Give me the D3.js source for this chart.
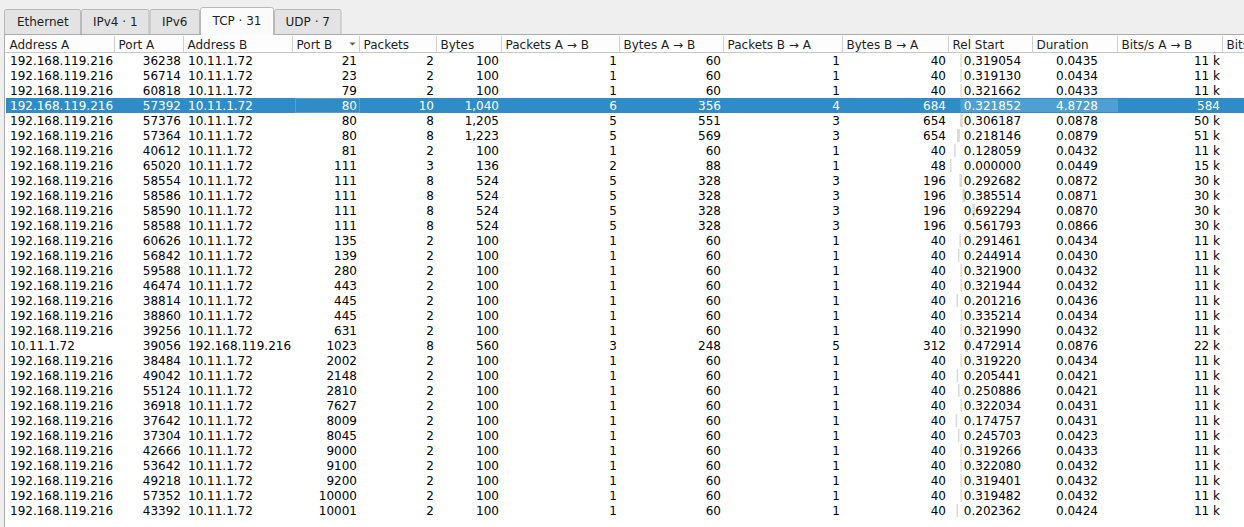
<!DOCTYPE html>
<html>
<head>
<meta charset="utf-8">
<script src="https://cdn.jsdelivr.net/npm/d3@7"></script>
<style>
  html, body { margin: 0; padding: 0; background: #efefef; overflow: hidden; }
  svg { display: block; font-family: "DejaVu Sans", sans-serif; font-size: 12px; }
</style>
</head>
<body>
<svg id="convTable" width="1244" height="527"></svg>
<script>
// tabs
const tabLabels = ["Ethernet", "IPv4 · 1", "IPv6", "TCP · 31", "UDP · 7"];
const selectedTab = 3;

// column headers
const headers = ["Address A", "Port A", "Address B", "Port B", "Packets", "Bytes",
  "Packets A → B", "Bytes A → B", "Packets B → A", "Bytes B → A",
  "Rel Start", "Duration", "Bits/s A → B", "Bits/s B → A"];

// conversation data (one array per column)
const addressA = ["192.168.119.216","192.168.119.216","192.168.119.216","192.168.119.216","192.168.119.216",
  "192.168.119.216","192.168.119.216","192.168.119.216","192.168.119.216","192.168.119.216",
  "192.168.119.216","192.168.119.216","192.168.119.216","192.168.119.216","192.168.119.216",
  "192.168.119.216","192.168.119.216","192.168.119.216","192.168.119.216","10.11.1.72",
  "192.168.119.216","192.168.119.216","192.168.119.216","192.168.119.216","192.168.119.216",
  "192.168.119.216","192.168.119.216","192.168.119.216","192.168.119.216","192.168.119.216",
  "192.168.119.216"];
const portA = [36238, 56714, 60818, 57392, 57376, 57364, 40612, 65020, 58554, 58586, 58590, 58588,
  60626, 56842, 59588, 46474, 38814, 38860, 39256, 39056, 38484, 49042, 55124, 36918, 37642,
  37304, 42666, 53642, 49218, 57352, 43392];
const addressB = ["10.11.1.72","10.11.1.72","10.11.1.72","10.11.1.72","10.11.1.72","10.11.1.72",
  "10.11.1.72","10.11.1.72","10.11.1.72","10.11.1.72","10.11.1.72","10.11.1.72","10.11.1.72",
  "10.11.1.72","10.11.1.72","10.11.1.72","10.11.1.72","10.11.1.72","10.11.1.72","192.168.119.216",
  "10.11.1.72","10.11.1.72","10.11.1.72","10.11.1.72","10.11.1.72","10.11.1.72","10.11.1.72",
  "10.11.1.72","10.11.1.72","10.11.1.72","10.11.1.72"];
const portB = [21, 23, 79, 80, 80, 80, 81, 111, 111, 111, 111, 111, 135, 139, 280, 443, 445, 445,
  631, 1023, 2002, 2148, 2810, 7627, 8009, 8045, 9000, 9100, 9200, 10000, 10001];
const packets = [2, 2, 2, 10, 8, 8, 2, 3, 8, 8, 8, 8, 2, 2, 2, 2, 2, 2, 2, 8, 2, 2, 2, 2, 2, 2, 2, 2, 2, 2, 2];
const bytes = [100, 100, 100, 1040, 1205, 1223, 100, 136, 524, 524, 524, 524, 100, 100, 100, 100,
  100, 100, 100, 560, 100, 100, 100, 100, 100, 100, 100, 100, 100, 100, 100];
const packetsAB = [1, 1, 1, 6, 5, 5, 1, 2, 5, 5, 5, 5, 1, 1, 1, 1, 1, 1, 1, 3, 1, 1, 1, 1, 1, 1, 1, 1, 1, 1, 1];
const bytesAB = [60, 60, 60, 356, 551, 569, 60, 88, 328, 328, 328, 328, 60, 60, 60, 60, 60, 60, 60,
  248, 60, 60, 60, 60, 60, 60, 60, 60, 60, 60, 60];
const packetsBA = [1, 1, 1, 4, 3, 3, 1, 1, 3, 3, 3, 3, 1, 1, 1, 1, 1, 1, 1, 5, 1, 1, 1, 1, 1, 1, 1, 1, 1, 1, 1];
const bytesBA = [40, 40, 40, 684, 654, 654, 40, 48, 196, 196, 196, 196, 40, 40, 40, 40, 40, 40, 40,
  312, 40, 40, 40, 40, 40, 40, 40, 40, 40, 40, 40];
const relStart = [0.319054, 0.319130, 0.321662, 0.321852, 0.306187, 0.218146, 0.128059, 0.000000,
  0.292682, 0.385514, 0.692294, 0.561793, 0.291461, 0.244914, 0.321900, 0.321944, 0.201216,
  0.335214, 0.321990, 0.472914, 0.319220, 0.205441, 0.250886, 0.322034, 0.174757, 0.245703,
  0.319266, 0.322080, 0.319401, 0.319482, 0.202362];
const duration = [0.0435, 0.0434, 0.0433, 4.8728, 0.0878, 0.0879, 0.0432, 0.0449, 0.0872, 0.0871,
  0.0870, 0.0866, 0.0434, 0.0430, 0.0432, 0.0432, 0.0436, 0.0434, 0.0432, 0.0876, 0.0434, 0.0421,
  0.0421, 0.0431, 0.0431, 0.0423, 0.0433, 0.0432, 0.0432, 0.0432, 0.0424];
const bitsAB = [11000, 11000, 11000, 584, 50000, 51000, 11000, 15000, 30000, 30000, 30000, 30000,
  11000, 11000, 11000, 11000, 11000, 11000, 11000, 22000, 11000, 11000, 11000, 11000, 11000,
  11000, 11000, 11000, 11000, 11000, 11000];
const selectedRow = 3;

// layout
const colEdges = [6, 115, 184, 293, 360, 437, 502, 620, 724, 843, 949, 1033, 1118, 1223, 1330];
const colAlign = ["start", "end", "start", "end", "end", "end", "end", "end", "end", "end",
  "middle", "middle", "end", "end"];
const tabEdges = [4.5, 81, 149.5, 200, 274, 341.5];
const headerTop = 35, headerBottom = 53, rowH = 15;

const svg = d3.select("#convTable");
const fmtInt = d3.format(",");
const fmtBits = v => v >= 1000 ? Math.round(v / 1000) + " k" : String(v);

const columns = [
  addressA, portA, addressB, portB,
  packets, bytes.map(fmtInt), packetsAB, bytesAB.map(fmtInt), packetsBA, bytesBA.map(fmtInt),
  relStart.map(d3.format(".6f")), duration.map(d3.format(".4f")), bitsAB.map(fmtBits), []
];
const n = portA.length;

// tabs
const tabs = svg.append("g").attr("class", "tabs")
  .selectAll("g").data(tabLabels).join("g");

tabs.append("path")
  .attr("d", (d, i) => {
    const x0 = tabEdges[i] + (i ? 0.5 : 0), x1 = tabEdges[i + 1] - 0.5;
    const top = i === selectedTab ? 7.5 : 9.5;
    const bot = i === selectedTab ? 35 : 34.5;
    return `M${x0},${bot}V${top + 2}Q${x0},${top} ${x0 + 2},${top}H${x1 - 2}Q${x1},${top} ${x1},${top + 2}V${bot}`;
  })
  .attr("fill", (d, i) => i === selectedTab ? "#fbfbfb" : "#e3e3e3")
  .attr("stroke", "#b9b9b9");

tabs.append("text")
  .attr("x", (d, i) => (tabEdges[i] + tabEdges[i + 1]) / 2)
  .attr("y", (d, i) => i === selectedTab ? 25 : 26)
  .attr("text-anchor", "middle")
  .attr("fill", "#1e1e1e")
  .text(d => d);

// table frame
svg.append("rect")
  .attr("x", 4.5).attr("y", 34.5)
  .attr("width", 1300).attr("height", 600)
  .attr("fill", "#fff").attr("stroke", "#acacac");

// re-open selected tab into the frame
svg.append("line")
  .attr("x1", tabEdges[selectedTab] + 1).attr("x2", tabEdges[selectedTab + 1] - 1)
  .attr("y1", 34.5).attr("y2", 34.5)
  .attr("stroke", "#fbfbfb");

// header
const header = svg.append("g").attr("class", "header");
header.append("rect")
  .attr("x", 5).attr("y", headerTop)
  .attr("width", 1300).attr("height", headerBottom - headerTop)
  .attr("fill", "#fdfdfd");
header.append("line")
  .attr("x1", 5).attr("x2", 1300)
  .attr("y1", headerBottom - 0.5).attr("y2", headerBottom - 0.5)
  .attr("stroke", "#c9c9c9");
header.selectAll("line.sep").data(colEdges.slice(1))
  .join("line").attr("class", "sep")
  .attr("x1", d => d - 0.5).attr("x2", d => d - 0.5)
  .attr("y1", headerTop + 1).attr("y2", headerBottom - 1)
  .attr("stroke", "#cfcfcf");
header.selectAll("text").data(headers)
  .join("text")
  .attr("x", (d, i) => colEdges[i] + 3.5)
  .attr("y", 49)
  .attr("fill", "#1e1e1e")
  .text(d => d);

// sort indicator on Port B
header.append("path")
  .attr("d", `M${colEdges[4] - 10.5},42.5h6l-3,3z`)
  .attr("fill", "#5a5a5a");

// rows
const y = d3.scaleBand().domain(d3.range(n)).range([headerBottom, headerBottom + n * rowH]);
const tEnd = d3.max(relStart, (s, i) => s + duration[i]);
const xt = d3.scaleLinear().domain([0, tEnd]).range([colEdges[10] + 1, colEdges[12]]);

const body = svg.append("g").attr("class", "rows");

body.append("rect")
  .attr("x", 6).attr("y", y(selectedRow))
  .attr("width", 1300).attr("height", y.bandwidth())
  .attr("fill", "#308cc6");

// timeline bars behind Rel Start / Duration
body.selectAll("rect.timeline").data(d3.range(n))
  .join("rect").attr("class", "timeline")
  .attr("x", i => xt(relStart[i]))
  .attr("y", i => y(i) + 1)
  .attr("width", i => Math.max(1.5, xt(relStart[i] + duration[i]) - xt(relStart[i])))
  .attr("height", y.bandwidth() - 2)
  .attr("fill", i => i === selectedRow ? "#4f9fd2" : "#dadada");

// focus rectangle on the current cell
body.append("rect")
  .attr("x", colEdges[3] + 2.5).attr("y", y(selectedRow) + 0.5)
  .attr("width", colEdges[4] - colEdges[3] - 3).attr("height", y.bandwidth() - 1)
  .attr("fill", "none").attr("stroke", "#5d9fcc");

const rowG = body.selectAll("g.row").data(d3.range(n))
  .join("g").attr("class", "row")
  .attr("transform", i => `translate(0,${y(i) + 12})`);

columns.forEach((col, c) => {
  rowG.filter(i => col[i] !== undefined)
    .append("text")
    .attr("x", () => colAlign[c] === "start" ? colEdges[c] + 4
      : colAlign[c] === "end" ? colEdges[c + 1] - 3
      : (colEdges[c] + colEdges[c + 1]) / 2 + 1.5)
    .attr("text-anchor", colAlign[c])
    .attr("fill", i => i === selectedRow ? "#fff" : "#000")
    .text(i => col[i]);
});
</script>
</body>
</html>
